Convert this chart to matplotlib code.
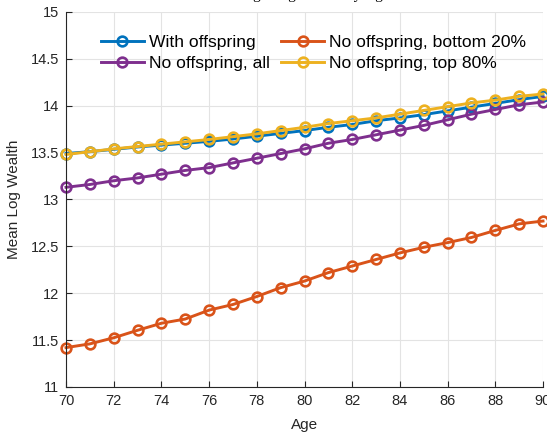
import matplotlib
matplotlib.use("Agg")
import matplotlib.pyplot as plt

ages = list(range(70, 91))

with_offspring = [13.49, 13.51, 13.535, 13.56, 13.58, 13.60, 13.62, 13.645, 13.675, 13.705,
                  13.735, 13.77, 13.80, 13.84, 13.87, 13.905, 13.945, 13.985, 14.025, 14.065, 14.10]
no_off_bottom20 = [11.42, 11.46, 11.525, 11.605, 11.68, 11.725, 11.82, 11.88, 11.965, 12.06,
                   12.13, 12.22, 12.29, 12.36, 12.43, 12.49, 12.54, 12.595, 12.67, 12.74, 12.77]
no_off_all = [13.13, 13.16, 13.20, 13.23, 13.27, 13.31, 13.34, 13.39, 13.44, 13.49,
              13.54, 13.60, 13.64, 13.69, 13.74, 13.79, 13.85, 13.91, 13.96, 14.01, 14.04]
no_off_top80 = [13.48, 13.51, 13.54, 13.565, 13.59, 13.615, 13.64, 13.67, 13.70, 13.735,
                13.77, 13.81, 13.84, 13.87, 13.91, 13.95, 13.99, 14.03, 14.06, 14.10, 14.125]

xticks = list(range(70, 91, 2))
yticks = [11, 11.5, 12, 12.5, 13, 13.5, 14, 14.5, 15]

plt.rcParams['font.family'] = ['Liberation Sans', 'DejaVu Sans']

fig = plt.figure(figsize=(5.47, 4.34), dpi=100)
ax = fig.add_axes([0.1207, 0.1083, 0.872, 0.8641])

style = dict(marker='o', markersize=7, markerfacecolor='none', markeredgewidth=1.9,
             linewidth=2.1, clip_on=False)
ax.plot(ages, with_offspring, color='#0072BD', label='With offspring', **style)
ax.plot(ages, no_off_bottom20, color='#D95319', label='No offspring, bottom 20%', **style)
ax.plot(ages, no_off_all, color='#7E2F8E', label='No offspring, all', **style)
ax.plot(ages, no_off_top80, color='#EDB120', label='No offspring, top 80%', **style)

ax.set_xlim(70, 90)
ax.set_ylim(11, 15)
ax.set_xticks(xticks)
ax.set_xticklabels([str(t) for t in xticks], fontfamily='Liberation Sans')
ax.set_yticks(yticks)
ax.set_yticklabels(['%g' % t for t in yticks], fontfamily='Liberation Sans')
ax.tick_params(direction='in', length=4, labelsize=10.5, colors='#262626', width=0.8)
ax.tick_params(axis='x', pad=5)
ax.tick_params(axis='y', pad=5)
ax.grid(True, color='#e3e3e3', linewidth=0.8)
ax.set_axisbelow(True)
for s in ['top', 'right']:
    ax.spines[s].set_visible(False)
for s in ['left', 'bottom']:
    ax.spines[s].set_color('#262626')
    ax.spines[s].set_linewidth(0.8)

ax.set_xlabel('Age', fontsize=11, color='#262626', labelpad=7)
ax.set_ylabel('Mean Log Wealth', fontsize=11, color='#262626', labelpad=7)

h, l = ax.get_legend_handles_labels()
order = [0, 2, 1, 3]
ax.legend([h[i] for i in order], [l[i] for i in order], ncol=2, frameon=False,
          fontsize=12.6, loc='upper left', bbox_to_anchor=(0.04, 0.982),
          handlelength=2.45, handletextpad=0.3, columnspacing=0.65, labelspacing=0.35)

# title sits mostly above the canvas, only descenders show
fig.text(0.555, 1.0 + 1.5 / 434, 'Average Log Wealth by Age', ha='center', va='baseline',
         fontsize=11, family='Liberation Serif', color='black')

fig.savefig('out.png', dpi=100)
